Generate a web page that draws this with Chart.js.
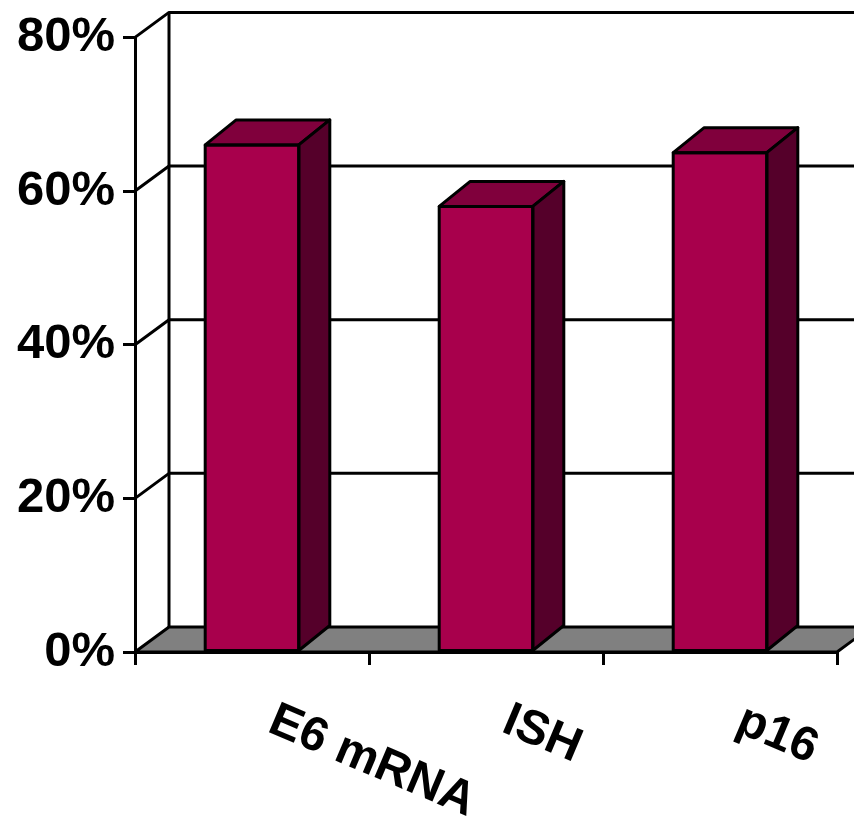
<!DOCTYPE html>
<html>
<head>
<meta charset="utf-8">
<script src="https://cdn.jsdelivr.net/npm/chart.js@4.4.1/dist/chart.umd.min.js"></script>
<style>
  html, body { margin: 0; padding: 0; background: #fff; }
  canvas { display: block; }
</style>
</head>
<body>
<canvas id="graph" width="854" height="825"></canvas>
<script>
const categories = ['E6 mRNA', 'ISH', 'p16'];
const positives = [66, 58, 65];
const yTicks = [0, 20, 40, 60, 80];

const FONT = '"Liberation Sans", Arial, sans-serif';
// depth offsets for the pseudo-3D walls and bars
const WALL_DX = 34, WALL_DY = -25;
const BAR_DX = 31, BAR_DY = -25;

function poly(ctx, pts, fill) {
    ctx.beginPath();
    ctx.moveTo(pts[0][0], pts[0][1]);
    for (let i = 1; i < pts.length; i++) ctx.lineTo(pts[i][0], pts[i][1]);
    ctx.closePath();
    if (fill) { ctx.fillStyle = fill; ctx.fill(); }
    ctx.stroke();
}

const walls = {
    id: 'walls',
    beforeDatasetsDraw(chart) {
        const {ctx, scales: {x, y}} = chart;
        const left = x.left, right = x.right, base = y.getPixelForValue(0);
        ctx.save();
        ctx.strokeStyle = '#000';
        ctx.lineWidth = 3;
        ctx.lineJoin = 'round';
        // floor
        poly(ctx, [
            [left, base], [right, base],
            [right + WALL_DX, base + WALL_DY], [left + WALL_DX, base + WALL_DY]
        ], '#808080');
        // back wall gridlines and side wall slants
        yTicks.forEach(v => {
            if (v === 0) return;
            const py = y.getPixelForValue(v);
            ctx.beginPath();
            ctx.moveTo(left, py);
            ctx.lineTo(left + WALL_DX, py + WALL_DY);
            ctx.lineTo(chart.width + 5, py + WALL_DY);
            ctx.stroke();
        });
        // back corner of the side wall
        ctx.beginPath();
        ctx.moveTo(left + WALL_DX, y.getPixelForValue(80) + WALL_DY);
        ctx.lineTo(left + WALL_DX, base + WALL_DY);
        ctx.stroke();
        ctx.restore();
    },
    afterDatasetsDraw(chart) {
        const {ctx} = chart;
        ctx.save();
        ctx.strokeStyle = '#000';
        ctx.lineWidth = 3;
        ctx.lineJoin = 'round';
        chart.getDatasetMeta(0).data.forEach(bar => {
            const {x, y, base, width} = bar.getProps(['x', 'y', 'base', 'width'], true);
            const x0 = x - width / 2, x1 = x + width / 2;
            poly(ctx, [[x0, y], [x1, y], [x1 + BAR_DX, y + BAR_DY], [x0 + BAR_DX, y + BAR_DY]], '#80003C');
            poly(ctx, [[x1, y], [x1 + BAR_DX, y + BAR_DY], [x1 + BAR_DX, base + BAR_DY], [x1, base]], '#55002A');
            ctx.strokeRect(x0, y, width, base - y);
        });
        ctx.restore();
    },
    afterDraw(chart) {
        const {ctx, scales: {x}} = chart;
        ctx.save();
        ctx.fillStyle = '#000';
        ctx.font = 'bold 48px ' + FONT;
        ctx.textAlign = 'left';
        ctx.textBaseline = 'alphabetic';
        categories.forEach((c, i) => {
            ctx.save();
            ctx.translate(x.getPixelForValue(i) + 14, 731);
            ctx.rotate(23 * Math.PI / 180);
            ctx.fillText(c, 0, 0);
            ctx.restore();
        });
        ctx.restore();
    }
};

new Chart(document.getElementById('graph'), {
    type: 'bar',
    data: {
        labels: categories,
        datasets: [{
            data: positives,
            backgroundColor: '#A8004C',
            borderColor: '#000',
            borderWidth: 0,
            barPercentage: 0.5,
            categoryPercentage: 0.8
        }]
    },
    options: {
        responsive: false,
        animation: false,
        layout: {padding: {top: 34, right: 17, left: 0, bottom: 0}},
        plugins: {legend: {display: false}, tooltip: {enabled: false}},
        scales: {
            x: {
                grid: {drawOnChartArea: false, color: '#000', lineWidth: 3, tickLength: 13},
                border: {color: '#000', width: 3},
                ticks: {display: false},
                afterFit: s => { s.height = 173; }
            },
            y: {
                min: 0,
                max: 80,
                grid: {drawOnChartArea: false, color: '#000', lineWidth: 3, tickLength: 12},
                border: {color: '#000', width: 3},
                ticks: {
                    stepSize: 20,
                    padding: 8,
                    color: '#000',
                    font: {family: FONT, size: 49, weight: 'bold'},
                    callback: v => v + '%'
                },
                afterFit: s => { s.width = 135; }
            }
        }
    },
    plugins: [walls]
});
</script>
</body>
</html>
